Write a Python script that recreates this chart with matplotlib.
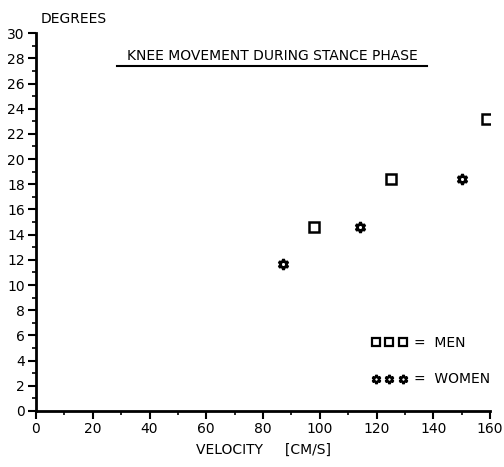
import numpy as np
import matplotlib.pyplot as plt
from matplotlib.lines import Line2D

# knee movement vs walking velocity
men_velocity = [98, 125, 159]
men_degrees = [14.6, 18.4, 23.2]
women_velocity = [87, 114, 150]
women_degrees = [11.7, 14.6, 18.4]

x_ticks = np.arange(0, 161, 20)
y_ticks = np.arange(0, 31, 2)

FONT = 'DejaVu Sans'


def main():
    fig = plt.figure(figsize=(5.04, 4.67), dpi=100)
    ax = fig.add_axes([0.0714, 0.12, 0.9010, 0.809])

    ax.plot(men_velocity, men_degrees, linestyle='none', marker='s', ms=7,
            mfc='white', mec='black', mew=1.8)
    star = (6, 1, 0)
    ax.plot(women_velocity, women_degrees, linestyle='none', marker=star, ms=7.5,
            mfc='white', mec='black', mew=2.0)

    ax.set_xlim(0, 160)
    ax.set_ylim(0, 30)
    ax.set_xticks(x_ticks)
    ax.set_yticks(y_ticks)
    ax.set_yticks(np.arange(1, 30, 2), minor=True)
    ax.set_xticks(np.arange(10, 160, 20), minor=True)
    ax.tick_params(which='major', direction='out', length=6, width=1.5,
                   labelsize=10, pad=2)
    ax.tick_params(which='minor', direction='out', length=3, width=1.2)
    for lbl in ax.get_xticklabels() + ax.get_yticklabels():
        lbl.set_family(FONT)

    for side in ['top', 'right']:
        ax.spines[side].set_visible(False)
    for side in ['left', 'bottom']:
        ax.spines[side].set_linewidth(2)

    ax.set_xlabel('VELOCITY     [CM/S]', fontsize=10, family=FONT, labelpad=5)

    fig.text(0.08, 0.96, 'DEGREES', fontsize=10, family=FONT, ha='left', va='center')

    # underlined title
    ax.text(0.52, 0.922, 'KNEE MOVEMENT DURING STANCE PHASE', transform=ax.transAxes,
            fontsize=10, family=FONT, ha='center', va='bottom')
    ax.add_line(Line2D([0.179, 0.862], [0.914, 0.914], transform=ax.transAxes,
                       color='black', lw=1.5, clip_on=False))

    handles = [
        Line2D([], [], linestyle='none', marker='s', ms=6.3, mfc='white', mec='black', mew=1.6),
        Line2D([], [], linestyle='none', marker=star, ms=6.3, mfc='white', mec='black', mew=1.8),
    ]
    ax.legend(handles, ['=  MEN', '=  WOMEN'], numpoints=3, handlelength=2.5,
              loc='lower left', bbox_to_anchor=(0.74, 0.065), frameon=False,
              labelspacing=1.6, handletextpad=0.5, borderpad=0, borderaxespad=0,
              prop={'family': FONT, 'size': 10})

    fig.savefig('out.png', dpi=100, facecolor='white')


if __name__ == '__main__':
    main()
